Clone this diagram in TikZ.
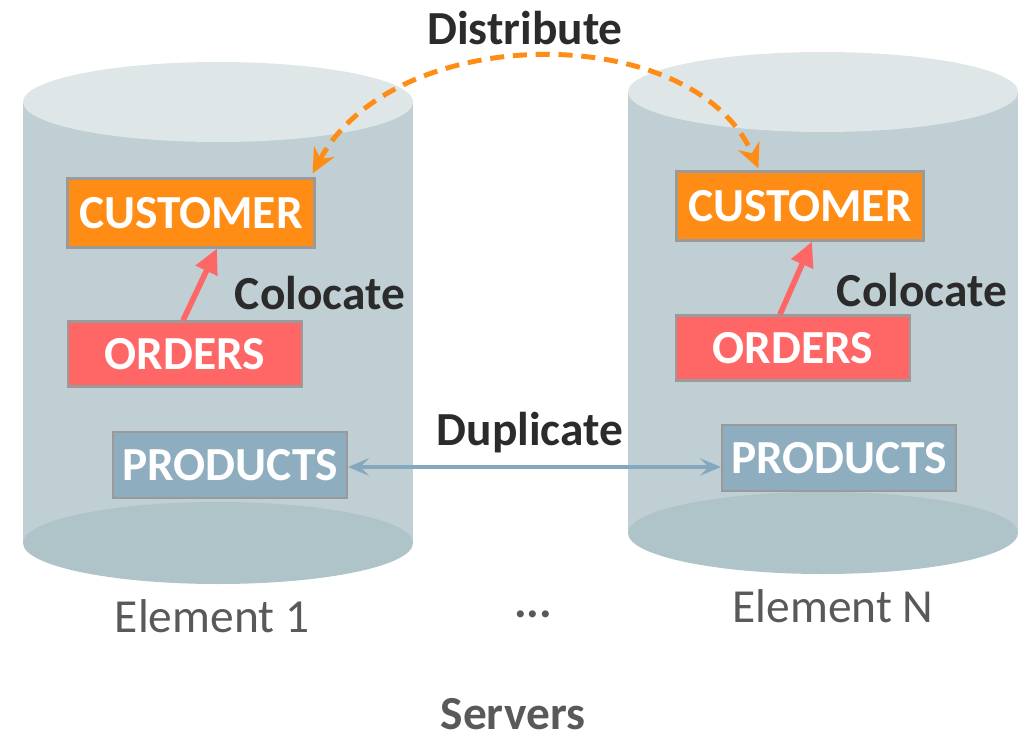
\documentclass[tikz,border=0pt]{standalone}
\usepackage{fontspec}
\setmainfont{Carlito}
\usepackage{tikz}
\usetikzlibrary{positioning,arrows.meta}

\definecolor{custorange}{HTML}{FF8C14}
\definecolor{ordred}{HTML}{FF6666}
\definecolor{prodblue}{HTML}{8EAEC0}
\definecolor{dupblue}{HTML}{84A9BF}
\definecolor{boxgray}{HTML}{9A9A9A}
\definecolor{cylbody}{HTML}{C0CFD4}
\definecolor{cyltop}{HTML}{DEE6E8}
\definecolor{cylbottom}{HTML}{AFC4C9}
\definecolor{labeldark}{HTML}{2B2B2B}
\definecolor{servgray}{HTML}{595959}

\begin{document}
\begin{tikzpicture}[x=0.02cm, y=-0.02cm,
		tbl/.style={draw=boxgray, line width=1.2pt, text=white, inner sep=0pt,
			font=\bfseries\fontsize{27}{31}\selectfont},
		lbl/.style={text=labeldark, font=\bfseries\fontsize{27}{31}\selectfont},
		srv/.style={text=servgray, font=\fontsize{27}{31}\selectfont}]
		\useasboundingbox (0,0) rectangle (1028,740);

		% the two server cylinders
		\foreach \cx/\cy in {218/102, 823/92} {
			\fill[cylbody] (\cx-195,\cy) rectangle (\cx+195,\cy+441);
			\fill[cylbottom] (\cx,\cy+441) ellipse [x radius=195, y radius=41];
			\fill[cyltop] (\cx,\cy) ellipse [x radius=195, y radius=40];
		}

		% tables on element 1
		\node[tbl, fill=custorange, minimum width=4.94cm, minimum height=1.38cm] (cust1) at (191,213) {CUSTOMER};
		\node[tbl, fill=ordred, minimum width=4.68cm, minimum height=1.3cm] (ord1) at (185,354) {ORDERS};
		\node[tbl, fill=prodblue, minimum width=4.68cm, minimum height=1.32cm] (prod1) at (230,465) {PRODUCTS};

		% tables on element N
		\node[tbl, fill=custorange, minimum width=4.94cm, minimum height=1.38cm] (cust2) at (800,206) {CUSTOMER};
		\node[tbl, fill=ordred, minimum width=4.68cm, minimum height=1.3cm] (ord2) at (793,348) {ORDERS};
		\node[tbl, fill=prodblue, minimum width=4.68cm, minimum height=1.32cm] (prod2) at (839,458) {PRODUCTS};

		\node[lbl] (col1) at (320,293) {Colocate};
		\node[lbl] (col2) at (922,290) {Colocate};
		\node[lbl] (dup) at (530,433) {Duplicate};
		\node[lbl] (dist) at (525,28) {Distribute};

		\node[srv] (el1) at (212,616) {Element 1};
		\node[srv] (elN) at (833,606) {Element N};
		\node[srv, font=\bfseries\fontsize{27}{31}\selectfont] (dots) at (533,614) {...};
		\node[srv, font=\bfseries\fontsize{27}{31}\selectfont] (srvs) at (513,714) {Servers};

		% colocate arrows
		\draw[-{Triangle[length=14pt, width=13pt]}, ordred, line width=3.2pt]
		([xshift=-0.04cm]ord1.north) -- ([xshift=0.52cm]cust1.south);
		\draw[-{Triangle[length=14pt, width=13pt]}, ordred, line width=3.2pt]
		([xshift=-0.26cm]ord2.north) -- ([xshift=0.24cm]cust2.south);

		% duplicate
		\draw[{Stealth[length=12pt, width=10pt, inset=5pt]}-{Stealth[length=12pt, width=10pt, inset=5pt]}, dupblue, line width=2pt]
		([yshift=-0.04cm]prod1.east) -- ([yshift=-0.04cm]prod1.east -| prod2.west);

		% distribute
		\draw[{Stealth[length=14pt, width=13pt]}-{Stealth[length=14pt, width=13pt]}, custorange, line width=2.8pt,
			dash pattern=on 8pt off 5pt]
		([xshift=-0.06cm, yshift=0.08cm]cust1.north east) .. controls (395,20) and (695,20) .. ([xshift=1.66cm, yshift=0.04cm]cust2.north west);
	\end{tikzpicture}
\end{document}
